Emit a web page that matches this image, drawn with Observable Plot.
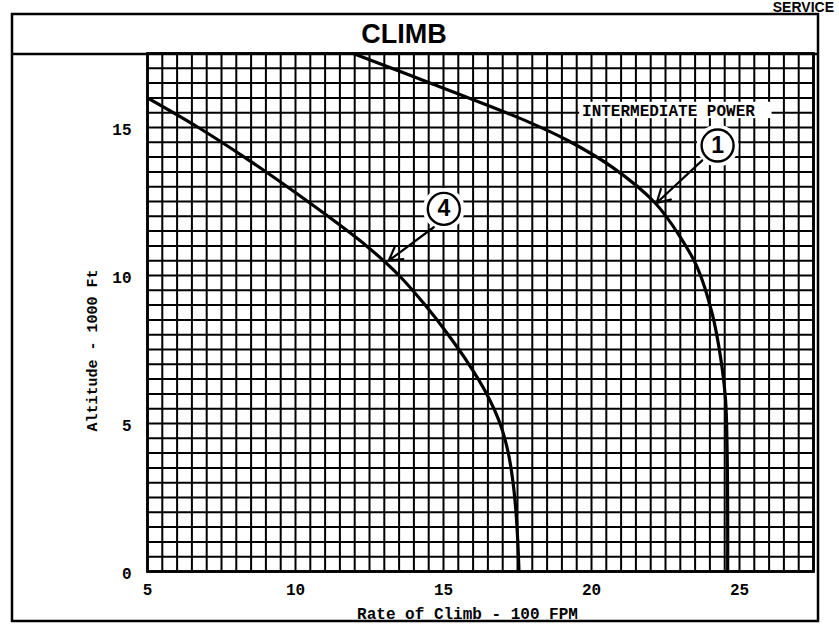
<!DOCTYPE html>
<html>
<head>
<meta charset="utf-8">
<script src="https://cdn.jsdelivr.net/npm/d3@7"></script>
<script src="https://cdn.jsdelivr.net/npm/@observablehq/plot@0.6"></script>
<style>
  html, body { margin: 0; padding: 0; background: #fff; }
  #chart { position: relative; width: 839px; height: 640px; overflow: hidden; }
  #chart svg { position: absolute; left: 0; top: 0; }
</style>
</head>
<body>
<div id="chart"></div>
<script>
// ---- Data ----
const chartTitle = "CLIMB";
const pageHeader = "SERVICE";
const xLabel = "Rate of Climb - 100 FPM";
const yLabel = "Altitude - 1000 Ft";
const xTicks = [5, 10, 15, 20, 25];
const yTicks = [0, 5, 10, 15];
const xDomain = [5, 27.5];
const yDomain = [0, 17.5];
const gridStep = 0.5;

// Curve (1) - Intermediate power : rate of climb (100 FPM) vs altitude (1000 ft)
const curve1Rate = [11.95, 15.2, 17.75, 19.2, 20.7, 22.15, 23.0, 23.57, 24.08, 24.36, 24.53, 24.58, 24.6, 24.6];
const curve1Alt  = [17.5, 16.25, 15.24, 14.56, 13.66, 12.45, 11.3, 10.28, 8.7, 7.24, 5.78, 4.2, 2.0, 0];

// Curve (4)
const curve4Rate = [5.0, 6.72, 8.27, 9.72, 11.1, 12.4, 13.5, 14.38, 15.16, 15.86, 16.46, 16.91, 17.19, 17.35, 17.45, 17.51, 17.55];
const curve4Alt  = [16.0, 15.0, 14.0, 13.0, 12.0, 11.0, 10.0, 9.0, 8.0, 7.0, 6.0, 5.0, 4.0, 3.0, 2.0, 1.0, 0];

// Annotations (data coordinates)
const powerLabel = "INTERMEDIATE POWER";
const powerLabelX = 19.68, powerLabelY = 15.55;
const powerBoxX = [19.6, 26.1], powerBoxY = [15.3, 15.85];
const calloutNames = ["1", "4"];
const calloutX = [24.26, 15.01];
const calloutY = [14.39, 12.25];
const arrowFromX = [23.74, 14.67], arrowFromY = [13.89, 11.63];
const arrowToX = [22.2, 13.15], arrowToY = [12.45, 10.5];

// ---- Build tables ----
const curve1 = curve1Rate.map((r, i) => ({rate: r, alt: curve1Alt[i]}));
const curve4 = curve4Rate.map((r, i) => ({rate: r, alt: curve4Alt[i]}));
const callouts = calloutNames.map((n, i) => ({name: n, x: calloutX[i], y: calloutY[i]}));
const arrows = calloutNames.map((n, i) => ({x1: arrowFromX[i], y1: arrowFromY[i], x2: arrowToX[i], y2: arrowToY[i]}));
const xGrid = d3.range(xDomain[0], xDomain[1] + 1e-9, gridStep);
const yGrid = d3.range(yDomain[0], yDomain[1] + 1e-9, gridStep);

const mono = "'Liberation Mono', 'DejaVu Sans Mono', monospace";
const sans = "'Liberation Sans', Arial, sans-serif";

const svg = Plot.plot({
  width: 839,
  height: 640,
  marginLeft: 147,
  marginRight: 26,
  marginTop: 53,
  marginBottom: 69,
  x: {domain: xDomain},
  y: {domain: yDomain},
  style: {background: "white", color: "black", fontFamily: mono, overflow: "visible"},
  marks: [
    Plot.ruleX(xGrid, {stroke: "black", strokeWidth: 2}),
    Plot.ruleY(yGrid, {stroke: "black", strokeWidth: 2}),
    Plot.frame({stroke: "black", strokeWidth: 2.8}),
    Plot.rect([0], {x1: () => powerBoxX[0], x2: () => powerBoxX[1], y1: () => powerBoxY[0], y2: () => powerBoxY[1], fill: "white"}),
    Plot.text([powerLabel], {x: () => powerLabelX, y: () => powerLabelY, text: d => d, textAnchor: "start",
      fontFamily: mono, fontSize: 16, fontWeight: "bold"}),
    Plot.dot(callouts, {x: "x", y: "y", r: 21, fill: "white"}),
    Plot.line(curve1, {x: "rate", y: "alt", curve: "catmull-rom", stroke: "black", strokeWidth: 3.2, clip: true}),
    Plot.line(curve4, {x: "rate", y: "alt", curve: "catmull-rom", stroke: "black", strokeWidth: 3.2, clip: true}),
    Plot.arrow(arrows, {x1: "x1", y1: "y1", x2: "x2", y2: "y2", stroke: "black", strokeWidth: 2.2, headLength: 10}),
    Plot.dot(callouts, {x: "x", y: "y", r: 16, fill: "white", stroke: "black", strokeWidth: 2.4}),
    Plot.text(callouts, {x: "x", y: "y", text: "name", fontFamily: sans, fontSize: 23, fontWeight: "bold", fill: "black"}),
    Plot.axisX(xTicks, {tickSize: 0, tickPadding: 12, fontSize: 16, fontWeight: "bold", fontFamily: mono, label: null}),
    Plot.axisY(yTicks, {tickSize: 0, tickPadding: 16, dy: 2, fontSize: 16, fontWeight: "bold", fontFamily: mono, label: null}),
    Plot.text([xLabel], {frameAnchor: "bottom", dx: -13, dy: 42, text: d => d, fontSize: 16, fontWeight: "bold",
      fontFamily: mono, lineAnchor: "middle", textAnchor: "middle"}),
    Plot.text([yLabel], {frameAnchor: "left", dx: -55, dy: 38, rotate: -90, text: d => d, fontSize: 15, fontWeight: "bold",
      fontFamily: mono, lineAnchor: "middle", textAnchor: "middle"})
  ]
});

// ---- Outer page frame and header band ----
const s = d3.select(svg);
s.append("rect").attr("x", 12).attr("y", 14).attr("width", 806).attr("height", 607)
  .attr("fill", "none").attr("stroke", "black").attr("stroke-width", 2.5);
s.append("line").attr("x1", 12).attr("x2", 818).attr("y1", 54).attr("y2", 54)
  .attr("stroke", "black").attr("stroke-width", 2.5);
s.append("text").attr("x", 404).attr("y", 43).attr("text-anchor", "middle")
  .attr("font-family", sans).attr("font-weight", "bold").attr("font-size", 27).attr("fill", "black")
  .text(chartTitle);
s.append("text").attr("x", 834).attr("y", 12).attr("text-anchor", "end")
  .attr("font-family", sans).attr("font-weight", "bold").attr("font-size", 14).attr("fill", "black")
  .text(pageHeader);

document.getElementById("chart").appendChild(svg);
</script>
</body>
</html>
